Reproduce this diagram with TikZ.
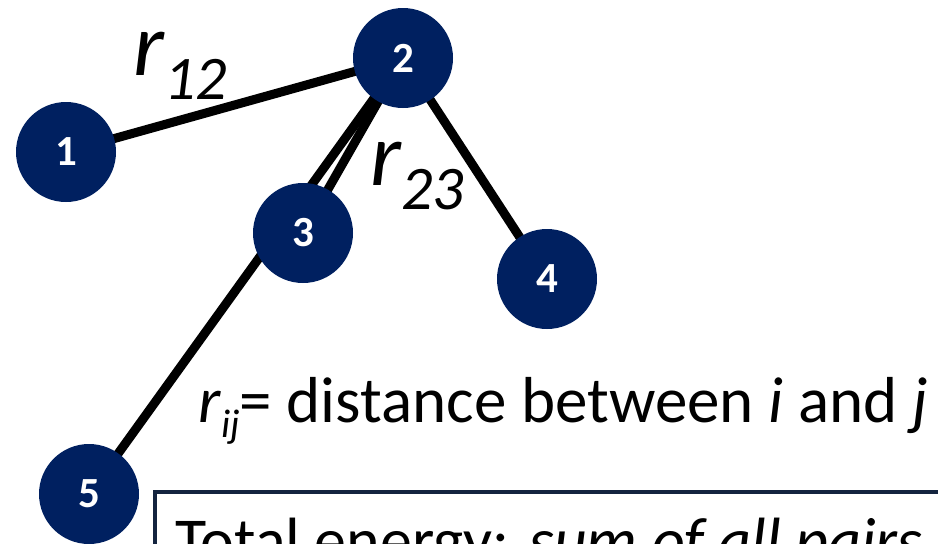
\documentclass[tikz,border=0pt]{standalone}
\usepackage{fontspec}
\setmainfont{Carlito}
\definecolor{nodeblue}{HTML}{002060}
\definecolor{boxblue}{HTML}{14243F}
\begin{document}
\begin{tikzpicture}[x=1pt,y=-1pt,
  atom/.style={circle,fill=nodeblue,minimum size=100pt,inner sep=0pt,text=white,font=\fontsize{43}{43}\selectfont\bfseries},
  bond/.style={line width=9pt,black},
  lbl/.style={anchor=base west,inner sep=0pt}]
\useasboundingbox (0,0) rectangle (938,544);
\clip (0,0) rectangle (938,544);
\coordinate (c1) at (66,152);
\coordinate (c2) at (403,58);
\coordinate (c3) at (303,233);
\coordinate (c4) at (547,279);
\coordinate (c5) at (89,494);
\draw[bond] (c1) -- (c2);
\draw[bond] (c2) -- (c3);
\draw[bond] (c2) -- (c5);
\draw[bond] (c2) -- (c4);
\node[atom] (n1) at (c1) {1};
\node[atom] (n2) at (c2) {2};
\node[atom] (n3) at (c3) {3};
\node[atom] (n4) at (c4) {4};
\node[atom] (n5) at (c5) {5};
\node[lbl] (r12) at (133,75) {\fontsize{90}{90}\selectfont\itshape r\raisebox{-24pt}{\fontsize{62}{62}\selectfont 12}};
\node[lbl] (r23) at (370,185) {\fontsize{90}{90}\selectfont\itshape r\raisebox{-24pt}{\fontsize{62}{62}\selectfont 23}};
\node[lbl] (rij) at (198,422) {\fontsize{65}{65}\selectfont\textit{r}\raisebox{-15pt}{\fontsize{40}{40}\selectfont\itshape ij}= distance between \textit{i} and \textit{j}};
\draw[boxblue,line width=4pt] (155,492) rectangle (1000,620);
\node[lbl] (tot) at (175,562) {\fontsize{64}{64}\selectfont Total energy: \textit{sum of all pairs}};
\end{tikzpicture}
\end{document}
